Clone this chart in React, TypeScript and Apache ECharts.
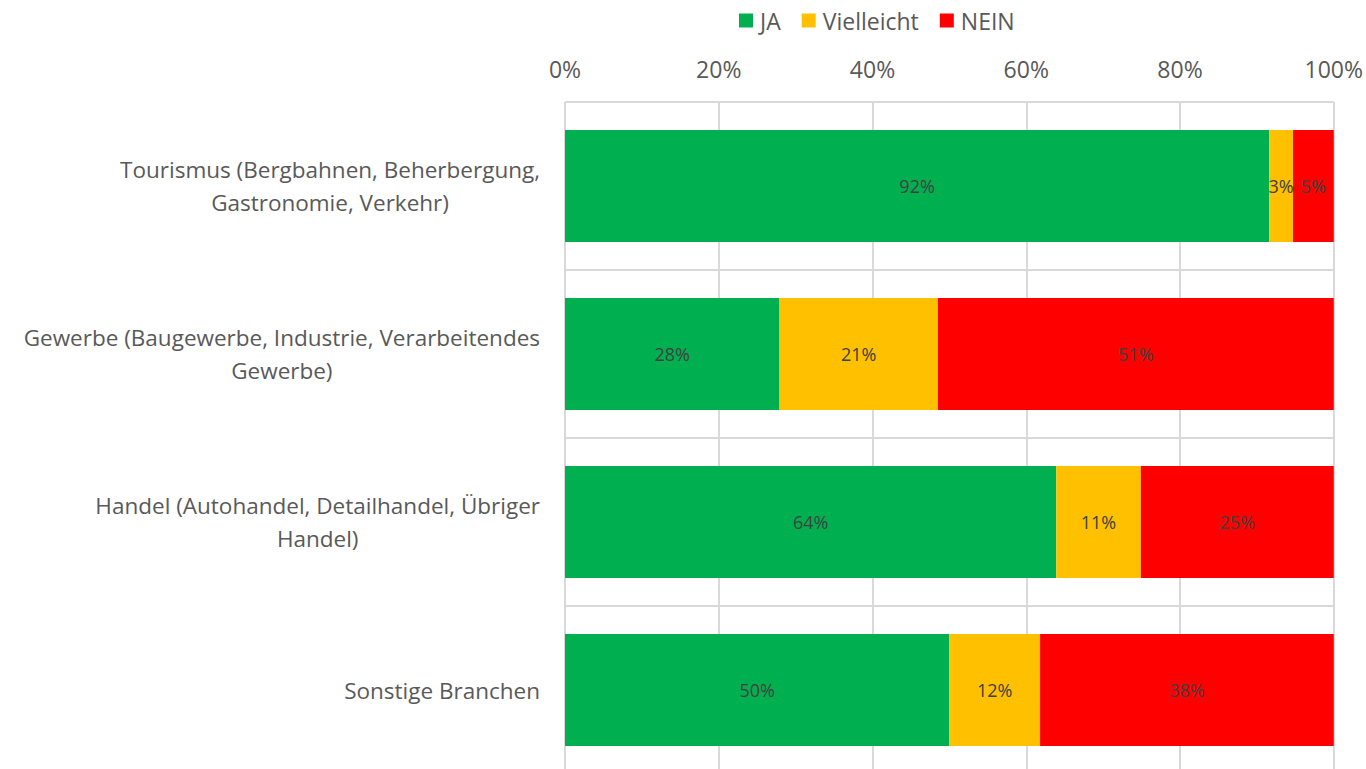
import React, { useEffect, useRef } from "react";
import * as echarts from "echarts";

const categories = [
  "Tourismus (Bergbahnen, Beherbergung,\nGastronomie, Verkehr)",
  "Gewerbe (Baugewerbe, Industrie, Verarbeitendes\nGewerbe)",
  "Handel (Autohandel, Detailhandel, Übriger\nHandel)",
  "Sonstige Branchen",
];
const seriesNames = ["JA", "Vielleicht", "NEIN"];
const jaValues = [91.6, 27.9, 63.9, 50.0];
const vielleichtValues = [3.1, 20.6, 11.0, 11.8];
const neinValues = [5.3, 51.5, 25.1, 38.2];
const xTicks = [0, 20, 40, 60, 80, 100];
const colors = ["#00B050", "#FFC000", "#FF0000"];

const FONT = "'Open Sans', sans-serif";

export default function App() {
  const ref = useRef<HTMLDivElement>(null);
  useEffect(() => {
    if (!ref.current) return;
    const chart = echarts.init(ref.current, undefined, { renderer: "svg" });
    const values = [jaValues, vielleichtValues, neinValues];
    chart.setOption({
      animation: false,
      backgroundColor: "#ffffff",
      textStyle: { fontFamily: FONT },
      legend: {
        top: 9,
        left: 739,
        padding: 0,
        itemWidth: 14,
        itemHeight: 14,
        itemGap: 21,
        icon: "rect",
        data: seriesNames,
        textStyle: { fontSize: 23, color: "#595959", fontFamily: FONT, padding: [0, 0, 0, 2] },
      },
      grid: { left: 565, top: 102, width: 770, height: 672 },
      xAxis: {
        type: "value",
        position: "top",
        min: xTicks[0],
        max: xTicks[xTicks.length - 1],
        interval: 20,
        axisLine: { show: false },
        axisTick: { show: false },
        axisLabel: {
          formatter: "{value}%",
          fontSize: 23,
          color: "#595959",
          margin: 22,
          fontFamily: FONT,
        },
        splitLine: { show: true, lineStyle: { color: "#d9d9d9", width: 2 } },
      },
      yAxis: {
        type: "category",
        inverse: true,
        data: categories,
        axisLine: { show: false },
        axisTick: { show: false },
        splitLine: { show: true, lineStyle: { color: "#d9d9d9", width: 2 } },
        axisLabel: {
          margin: 25,
          fontSize: 22.5,
          color: "#595959",
          fontFamily: FONT,
          lineHeight: 33,
          formatter: (v: string) =>
            v
              .split("\n")
              .map((l) => "{c|" + l + "}")
              .join("\n"),
          rich: {
            c: {
              align: "center",
              fontSize: 22.5,
              color: "#595959",
              fontFamily: FONT,
              lineHeight: 33,
            },
          },
        },
      },
      series: seriesNames.map((name, i) => ({
        name,
        type: "bar",
        stack: "total",
        barWidth: 112,
        data: values[i],
        itemStyle: { color: colors[i] },
        label: {
          show: true,
          position: "inside",
          color: "#404040",
          fontSize: 18,
          fontFamily: FONT,
          formatter: (p: any) => Math.round(p.value * 10 - 0.5) / 10 >= 0 ? Math.round(p.value - 0.01) + "%" : "",
        },
      })),
    });
    return () => chart.dispose();
  }, []);
  return (
    <div
      style={{
        position: "absolute",
        left: 0,
        top: 0,
        width: 1366,
        height: 769,
        overflow: "hidden",
      }}
    >
      <div ref={ref} style={{ width: 1366, height: 800 }} />
    </div>
  );
}
